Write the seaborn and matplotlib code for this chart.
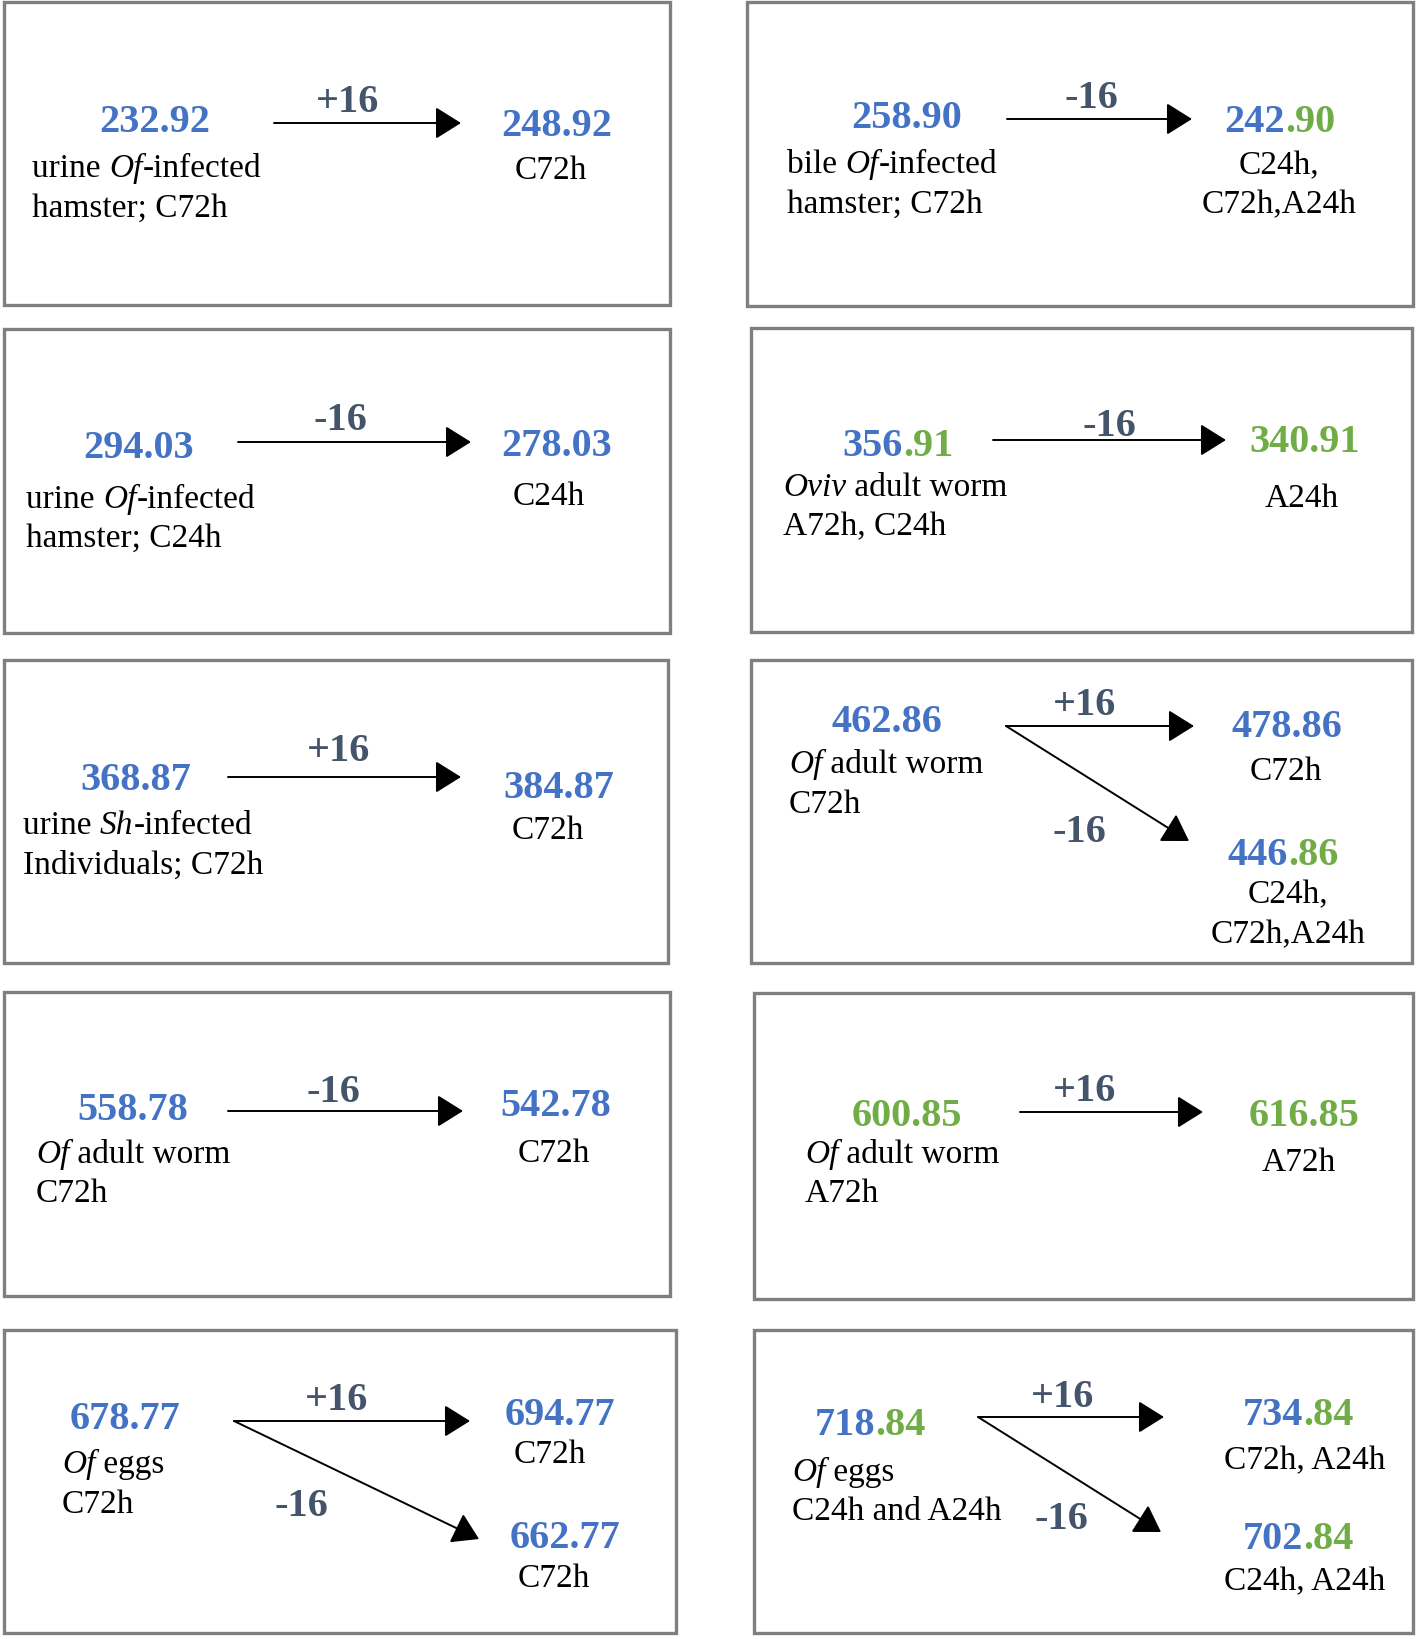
import seaborn as sns
from matplotlib import pyplot as plt
from matplotlib.patches import Rectangle, FancyArrowPatch

# ---- data (panels in reading order: left, right, ...) ----
src_mz = ["232.92", "258.90", "294.03", "356.91", "368.87",
          "462.86", "558.78", "600.85", "678.77", "718.84"]
src_blue = [6, 6, 6, 3, 6, 6, 6, 0, 6, 3]   # leading chars drawn in blue, rest green
src_desc = [["urine *Of*-infected", "hamster; C72h"],
            ["bile *Of*-infected", "hamster; C72h"],
            ["urine *Of*-infected", "hamster; C24h"],
            ["*Oviv* adult worm", "A72h, C24h"],
            ["urine *Sh*-infected", "Individuals; C72h"],
            ["*Of* adult worm", "C72h"],
            ["*Of* adult worm", "C72h"],
            ["*Of* adult worm", "A72h"],
            ["*Of* eggs", "C72h"],
            ["*Of* eggs", "C24h and A24h"]]
shifts = [["+16"], ["-16"], ["-16"], ["-16"], ["+16"],
          ["+16", "-16"], ["-16"], ["+16"], ["+16", "-16"], ["+16", "-16"]]
prod_mz = [["248.92"], ["242.90"], ["278.03"], ["340.91"], ["384.87"],
           ["478.86", "446.86"], ["542.78"], ["616.85"],
           ["694.77", "662.77"], ["734.84", "702.84"]]
prod_blue = [[6], [3], [6], [0], [6], [6, 3], [6], [0], [6, 6], [3, 3]]
prod_desc = [[["C72h"]], [["C24h,", "C72h,A24h"]], [["C24h"]], [["A24h"]],
             [["C72h"]], [["C72h"], ["C24h,", "C72h,A24h"]], [["C72h"]],
             [["A72h"]], [["C72h"], ["C72h"]], [["C72h, A24h"], ["C24h, A24h"]]]

# ---- layout in pixels (x, y from top-left) ----
layout = [
    dict(box=(4, 3, 670, 306), src=(155, 119), lab=(32, [166, 206]), start=(274, 124),
         prods=[dict(end=(461, 124), delta=(348, 98), c=(557, 122), lx=551, ys=[168])]),
    dict(box=(747, 3, 1413, 307), src=(907, 115), lab=(787, [162, 202]), start=(1007, 120),
         prods=[dict(end=(1192, 120), delta=(1091, 95), c=(1280, 118), lx=1279, ys=[163, 202])]),
    dict(box=(4, 330, 670, 634), src=(139, 444), lab=(26, [497, 536]), start=(238, 443),
         prods=[dict(end=(471, 443), delta=(340, 417), c=(557, 442), lx=549, ys=[494])]),
    dict(box=(751, 329, 1412, 633), src=(898, 443), lab=(783, [485, 524]), start=(993, 441),
         prods=[dict(end=(1226, 441), delta=(1109, 422), c=(1305, 438), lx=1302, ys=[496])]),
    dict(box=(4, 661, 668, 964), src=(136, 777), lab=(23, [823, 863]), start=(228, 778),
         prods=[dict(end=(461, 778), delta=(339, 748), c=(559, 785), lx=548, ys=[828])]),
    dict(box=(751, 661, 1412, 964), src=(887, 719), lab=(789, [762, 802]), start=(1006, 727),
         prods=[dict(end=(1194, 727), delta=(1085, 702), c=(1287, 724), lx=1286, ys=[769]),
                dict(end=(1189, 842), delta=(1079, 829), c=(1283, 852), lx=1288, ys=[892, 932])]),
    dict(box=(4, 993, 670, 1297), src=(133, 1107), lab=(36, [1152, 1191]), start=(228, 1112),
         prods=[dict(end=(463, 1112), delta=(333, 1089), c=(556, 1103), lx=554, ys=[1151])]),
    dict(box=(754, 994, 1413, 1300), src=(907, 1113), lab=(805, [1152, 1191]), start=(1020, 1113),
         prods=[dict(end=(1203, 1113), delta=(1085, 1088), c=(1304, 1113), lx=1299, ys=[1160])]),
    dict(box=(4, 1331, 676, 1634), src=(125, 1416), lab=(62, [1462, 1502]), start=(234, 1422),
         prods=[dict(end=(470, 1422), delta=(337, 1397), c=(560, 1412), lx=550, ys=[1452]),
                dict(end=(479, 1540), delta=(301, 1503), c=(565, 1535), lx=554, ys=[1576])]),
    dict(box=(754, 1331, 1413, 1634), src=(870, 1422), lab=(792, [1470, 1509]), start=(978, 1418),
         prods=[dict(end=(1164, 1418), delta=(1063, 1394), c=(1298, 1412), lx=1305, ys=[1458]),
                dict(end=(1161, 1533), delta=(1061, 1516), c=(1298, 1536), lx=1305, ys=[1579])]),
]

BLUE = '#4472C4'
GREEN = '#70AD47'
SLATE = '#44546A'
NUM_SIZE = 29
LAB_SIZE = 24

sns.set_style('white')
plt.rcParams['font.family'] = ['Liberation Serif', 'DejaVu Serif']

fig = plt.figure(figsize=(14.18, 16.40), dpi=100)
ax = fig.add_axes([0, 0, 1, 1])
ax.set_xlim(0, 1418)
ax.set_ylim(1640, 0)
ax.axis('off')
renderer = fig.canvas.get_renderer()


def text_width(s, **kw):
    # measure with guard chars so leading/trailing spaces count
    t = ax.text(0, 0, '|' + s + '|', **kw)
    w1 = t.get_window_extent(renderer=renderer).width
    t.set_text('||')
    w2 = t.get_window_extent(renderer=renderer).width
    t.remove()
    return w1 - w2


def draw_runs(x, y, runs, ha='center', **kw):
    widths = [text_width(s, fontstyle=st, **kw) for s, c, st in runs]
    pos = x - sum(widths) / 2 if ha == 'center' else x
    for (s, c, st), w in zip(runs, widths):
        ax.text(pos, y, s, color=c, fontstyle=st, ha='left', va='baseline', **kw)
        pos += w


def number(x, y, mz, nblue):
    runs = [(mz[:nblue], BLUE, 'normal'), (mz[nblue:], GREEN, 'normal')]
    runs = [r for r in runs if r[0]]
    draw_runs(x, y + 13.5, runs, fontsize=NUM_SIZE, fontweight='bold')


def label(x, y, line, ha):
    parts = line.split('*')
    runs = [(p, 'black', 'italic' if i % 2 else 'normal') for i, p in enumerate(parts) if p]
    draw_runs(x, y + 11, runs, ha=ha, fontsize=LAB_SIZE)


for i, lay in enumerate(layout):
    x0, y0, x1, y1 = lay['box']
    ax.add_patch(Rectangle((x0, y0), x1 - x0, y1 - y0, fill=False,
                           edgecolor='#7F7F7F', lw=2.4))
    number(*lay['src'], src_mz[i], src_blue[i])
    lx, lys = lay['lab']
    for line, ly in zip(src_desc[i], lys):
        label(lx, ly, line, 'left')
    for j, p in enumerate(lay['prods']):
        ax.add_patch(FancyArrowPatch(lay['start'], p['end'],
                                     arrowstyle='-|>,head_length=1.6,head_width=1.0',
                                     mutation_scale=10, lw=1.4, color='black',
                                     shrinkA=0, shrinkB=0))
        dx, dy = p['delta']
        ax.text(dx, dy + 13.5, shifts[i][j], color=SLATE, fontsize=NUM_SIZE,
                fontweight='bold', ha='center', va='baseline')
        cx, cy = p['c']
        number(cx, cy, prod_mz[i][j], prod_blue[i][j])
        for line, ly in zip(prod_desc[i][j], p['ys']):
            label(p['lx'], ly, line, 'center')

fig.savefig('out.png', dpi=100)
